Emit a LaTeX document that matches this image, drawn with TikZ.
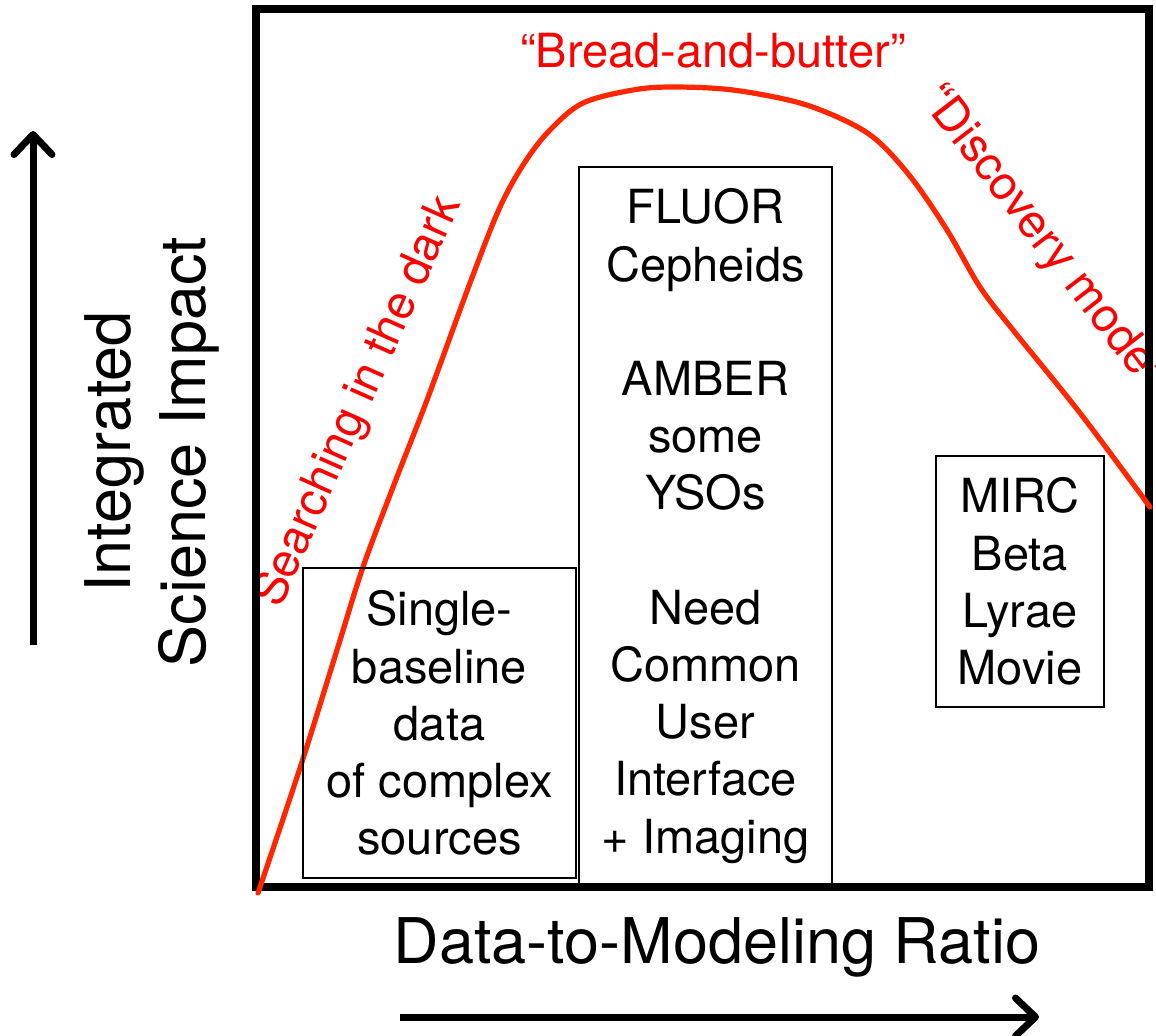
\documentclass[tikz,border=0pt]{standalone}
\usepackage{fontspec}
\setmainfont{TeX Gyre Heros}
\usetikzlibrary{arrows.meta}

\definecolor{curvered}{RGB}{255,38,0}
\definecolor{labelred}{RGB}{255,0,0}

\begin{document}
\begin{tikzpicture}[x=0.5pt,y=-0.5pt,line width=1pt,
  >={Straight Barb[length=10pt,width=19pt,line cap=round,line join=round]},
  box/.style={draw,line width=1pt,align=center,inner sep=0pt,font=\fontsize{23.5}{28.6}\selectfont},
  tag/.style={text=labelred,inner sep=0pt,font=\fontsize{23.5}{28.6}\selectfont},
  axis/.style={align=center,inner sep=0pt,font=\fontsize{31.5}{37.5}\selectfont}]
  \useasboundingbox (0,0) rectangle (1156,1035);
  % red labels along the curve
  \node[tag,anchor=base] (bread) at (713,67) {“Bread-and-butter”};
  \node[tag,rotate=66] (search) at (359,402) {Searching in the dark};
  \node[tag,rotate=-52.4] (discover) at (1042,238) {“Discovery mode”};
  % frame
  \draw[line width=4pt] (256,8.5) rectangle (1149,887);
  \draw[curvered,line width=2.6pt,line cap=round] plot[smooth,tension=0.55] coordinates {
    (258,893) (300,768) (337,650) (363,567) (395,482) (427,400) (470,283)
    (500,207) (525,162) (550,130) (583,103) (633,90) (673,87) (733,90)
    (800,103) (850,123) (880,143) (913,180) (947,230) (980,287) (1013,330)
    (1080,413) (1150,507)};
  % boxes
  \node[box,minimum width=136.5pt,minimum height=155pt] (single) at (439.5,723)
    {Single-\\baseline\\data\\of complex\\sources};
  \node[box,minimum width=126.5pt,minimum height=359pt] (fluor) at (705.5,526)
    {FLUOR\\Cepheids\\[28.6pt]AMBER\\some\\YSOs\\[28.6pt]Need\\Common\\User\\Interface\\+ Imaging};
  \node[box,minimum width=84pt,minimum height=125.5pt] (mirc) at (1020,581.5)
    {MIRC\\Beta\\Lyrae\\Movie};
  % axes
  \node[axis,rotate=90] (ylab) at (152,452) {Integrated\\Science Impact};
  \node[axis,anchor=base] (xlab) at (717,963) {Data-to-Modeling Ratio};
  \coordinate (ybot) at (33,645);
  \coordinate (ytop) at (33,131);
  \coordinate (xleft) at (400,1017);
  \coordinate (xright) at (1039,1017);
  \draw[->,line width=3.5pt] (ybot) -- (ytop);
  \draw[->,line width=3.5pt] (xleft) -- (xright);
\end{tikzpicture}
\end{document}
